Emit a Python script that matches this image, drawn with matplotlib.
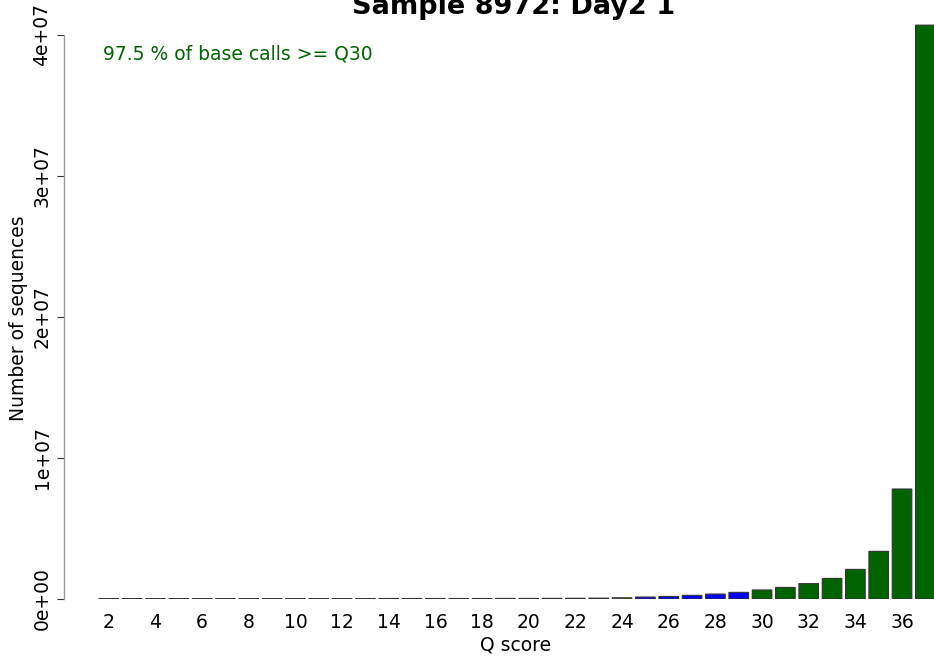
import matplotlib
matplotlib.use("Agg")
import matplotlib.pyplot as plt

# Q score histogram values
q_scores = list(range(2, 38))
counts = [3.0e4, 3.0e4, 3.0e4, 3.0e4, 3.0e4, 3.0e4, 3.0e4, 3.0e4, 3.0e4,
          3.0e4, 3.0e4, 3.0e4, 3.5e4, 3.5e4, 3.5e4, 3.5e4, 3.5e4, 4.0e4,
          4.0e4, 4.5e4, 5.0e4, 6.0e4, 9.0e4,
          1.4e5, 1.8e5, 2.6e5, 3.5e5, 4.7e5,
          6.4e5, 8.2e5, 1.09e6, 1.46e6, 2.10e6, 3.38e6, 7.80e6, 4.07e7]
tick_values = list(range(2, 37, 2))
y_ticks = [0, 1e7, 2e7, 3e7, 4e7]
y_tick_labels = ["0e+00", "1e+07", "2e+07", "3e+07", "4e+07"]
title = "Sample 8972: Day2 1"
note = "97.5 % of base calls >= Q30"

def bar_colour(q):
    if q >= 30:
        return "#006400"
    if q >= 25:
        return "#0000ff"
    return "#bebebe"

plt.rcParams['font.family'] = ['DejaVu Sans']

W, H = 934, 662
fig = plt.figure(figsize=(W / 100, H / 100), dpi=100)
ax_left, ax_right, ax_bottom, ax_top = 64, 934, 599, 0
ax = fig.add_axes([ax_left / W, (H - ax_bottom) / H,
                   (ax_right - ax_left) / W, (ax_bottom - ax_top) / H])

bars = ax.bar(q_scores, counts, width=0.84, color=[bar_colour(q) for q in q_scores],
              edgecolor="#333333", linewidth=0.8)
# keep the very short bars visible as thin lines, like the reference
for b in bars:
    b.set_snap(False)

ax.set_xlim(0.08, 37.37)
ax.set_ylim(0, 599 / 141 * 1e7)

for side in ["top", "right", "bottom"]:
    ax.spines[side].set_visible(False)
ax.spines["left"].set_bounds(0, 4e7)
ax.spines["left"].set_color("#999999")
ax.spines["left"].set_linewidth(1.0)

ax.set_yticks(y_ticks)
ax.set_yticklabels(y_tick_labels, rotation=90, va="center", fontsize=13.5)
ax.tick_params(axis="y", length=5, width=0.8, color="#333333", pad=4)

ax.set_xticks(tick_values)
ax.set_xticklabels([str(v) for v in tick_values], fontsize=13.5)
ax.tick_params(axis="x", length=0, pad=10)

# Axis labels and title
ax.set_xlabel("Q score", fontsize=13.5)
ax.xaxis.set_label_coords((516 - ax_left) / (ax_right - ax_left), -(645 - ax_bottom) / ax_bottom)
ax.xaxis.label.set_va("center")

fig.text(19 / W, (H - 318) / H, "Number of sequences", rotation=90,
         ha="center", va="center", fontsize=13.5)
fig.text(514 / W, (H - 14) / H, title, ha="center", va="baseline",
         fontsize=19.5, fontweight="bold")
fig.text(103 / W, (H - 59) / H, note, ha="left", va="baseline",
         fontsize=13.5, color="#006400")

fig.savefig("out.png", dpi=100)
